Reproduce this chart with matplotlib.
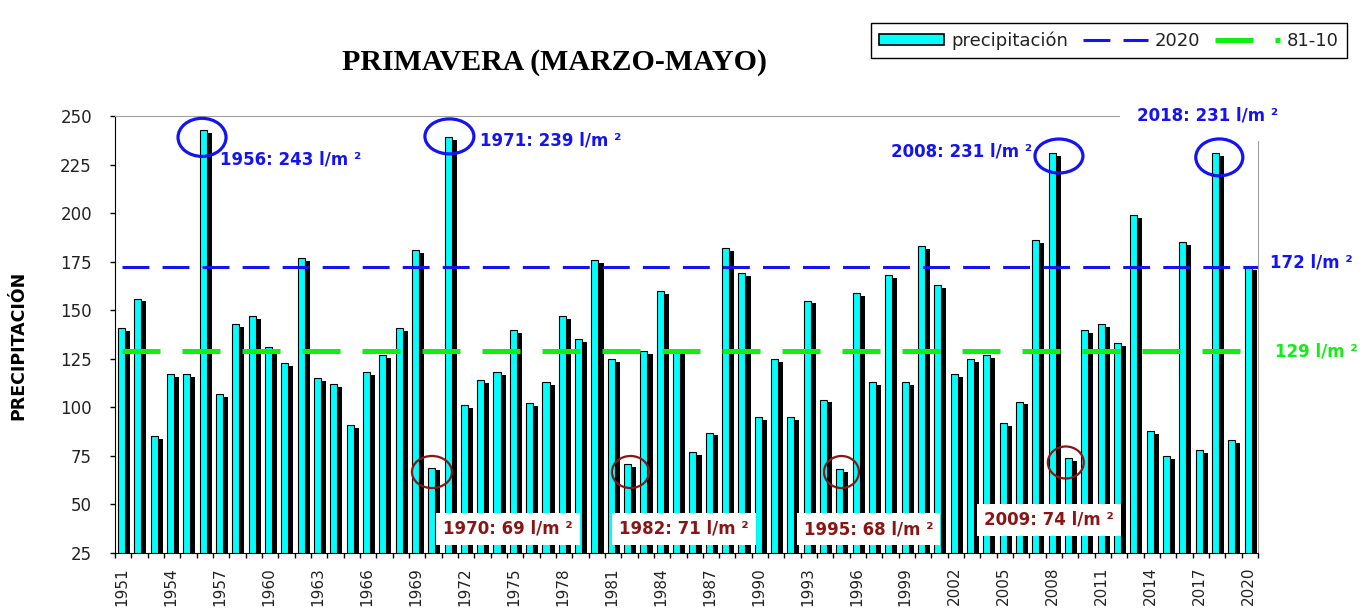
import numpy as np
import matplotlib
matplotlib.use('Agg')
import matplotlib.pyplot as plt
from matplotlib.patches import Ellipse, Patch
from matplotlib.lines import Line2D

years = list(range(1951, 2021))
precip = [141, 156, 85, 117, 117, 243, 107, 143, 147, 131,
          123, 177, 115, 112, 91, 118, 127, 141, 181, 69,
          239, 101, 114, 118, 140, 102, 113, 147, 135, 176,
          125, 71, 129, 160, 129, 77, 87, 182, 169, 95,
          125, 95, 155, 104, 68, 159, 113, 168, 113, 183,
          163, 117, 125, 127, 92, 103, 186, 231, 74, 140,
          143, 133, 199, 88, 75, 185, 78, 231, 83, 172]
ref_2020 = 172
ref_8110 = 129

# highlighted years: (year, ellipse dx, ellipse dy, ellipse w, ellipse h)
max_marks = [(1956, -0.17, -4, 2.94, 19.6), (1971, -0.02, 0.5, 3.0, 18.0),
             (2008, 0.31, -1.6, 2.94, 17.5), (2018, 0.13, -2.3, 2.88, 19.0)]
min_marks = [(1970, -0.09, -2.3, 2.45, 16.5), (1982, 0.07, -4.3, 2.27, 16.5),
             (1995, -0.01, -1.3, 2.14, 16.5), (2009, -0.27, -2.4, 2.2, 16.5)]
# label positions (year, dx, y, ha)
max_labels = [(1956, 0.93, 227.4, 'left'), (1971, 1.85, 237.4, 'left'),
              (2008, -1.35, 231.7, 'right'), (2018, -4.91, 250.5, 'left')]
min_labels = [(1970, 0.59, 37.4), (1982, -0.64, 37.4),
              (1995, -2.31, 37.2), (2009, -5.29, 42.0)]

BLUE = '#1414f0'
GREEN = '#11ee11'
BROWN = '#8b1515'
CYAN = '#00ffff'

fig = plt.figure(figsize=(13.7, 6.1), dpi=100)
ax = fig.add_axes([115/1370, 57/610, 1143/1370, 437/610])

x = np.arange(len(years))
vals = np.array(precip)
ax.bar(x + 0.205, vals - 1.5, width=0.43, color='black', zorder=2)
ax.bar(x - 0.105, vals, width=0.43, color=CYAN, edgecolor='black',
       linewidth=0.8, zorder=2.1)

ax.axhline(ref_2020, color=BLUE, lw=2.2, linestyle=(10.8, (8.8, 4.3)), zorder=3)
ax.axhline(ref_8110, color=GREEN, lw=3.6, linestyle=(10.6, (7.6, 4.4)), zorder=3)

ax.set_xlim(-0.5, len(years) - 0.5)
ax.set_ylim(25, 250)
ax.set_yticks(range(25, 251, 25))
ax.set_xticks(x[::3] - 0.1)
ax.set_xticklabels([str(y) for y in years[::3]], rotation=90)
ax.set_xticks(np.arange(-0.5, len(years), 1), minor=True)
ax.tick_params(axis='x', which='major', length=0, pad=10, labelsize=11,
               labelcolor='#222222')
ax.tick_params(axis='x', which='minor', length=3.6, width=1, color='black')
ax.tick_params(axis='y', length=3.6, width=1, pad=13, labelsize=12,
               labelcolor='#222222')
for lab in ax.get_xticklabels() + ax.get_yticklabels():
    lab.set_family('DejaVu Sans')

ax.spines['top'].set_color('#a0a0a0')
ax.spines['right'].set_color('#a0a0a0')
ax.spines['left'].set_color('black')
ax.spines['bottom'].set_color('black')

for yr, dx, dy, w, h in max_marks:
    i = years.index(yr)
    ax.add_patch(Ellipse((i + dx, precip[i] + dy), w, h, fill=False,
                         edgecolor=BLUE, lw=2.3, zorder=6, clip_on=False))
for yr, dx, dy, w, h in min_marks:
    i = years.index(yr)
    ax.add_patch(Ellipse((i + dx, precip[i] + dy), w, h, fill=False,
                         edgecolor=BROWN, lw=1.6, zorder=6))

for yr, dx, yy, ha in max_labels:
    i = years.index(yr)
    t = ax.text(i + dx, yy, f'{yr}: {precip[i]} l/m ²', color=BLUE,
                fontsize=12, fontweight='bold', family='DejaVu Sans',
                ha=ha, va='center', zorder=5, clip_on=False)
    if yr == 2018:
        t.set_bbox(dict(boxstyle='square,pad=1.0', fc='white', ec='none'))

for yr, dx, yy in min_labels:
    i = years.index(yr)
    ax.text(i + dx, yy, f'{yr}: {precip[i]} l/m ²', color=BROWN,
            fontsize=12, fontweight='bold', family='DejaVu Sans',
            ha='left', va='center', zorder=5,
            bbox=dict(boxstyle='square,pad=0.42', fc='white', ec='none'))

trans = ax.get_yaxis_transform()
ax.text(1.0105, ref_2020 + 2.5, f'{ref_2020} l/m ²', transform=trans,
        color=BLUE, fontsize=12, fontweight='bold', family='DejaVu Sans',
        ha='left', va='center', clip_on=False)
ax.text(1.015, ref_8110, f'{ref_8110} l/m ²', transform=trans,
        color=GREEN, fontsize=12, fontweight='bold', family='DejaVu Sans',
        ha='left', va='center', clip_on=False)

fig.text(554/1370, 1 - 63/610, 'PRIMAVERA (MARZO-MAYO)', ha='center',
         va='center', fontsize=21.5, fontweight='bold', family='Liberation Serif')
fig.text(18/1370, 1 - 345/610, 'PRECIPITACIÓN', rotation=90, ha='center',
         va='center', fontsize=12.5, fontweight='bold', family='DejaVu Sans')

handles = [Patch(facecolor=CYAN, edgecolor='black', linewidth=1.2),
           Line2D([], [], color=BLUE, lw=2.2, dashes=(8.8, 4.3)),
           Line2D([], [], color=GREEN, lw=3.6, dashes=(7.6, 4.4))]
leg = fig.legend(handles, ['precipitación', '2020', '81-10'], ncol=3,
                 loc='upper right', bbox_to_anchor=(1356/1370, 1 - 14/610),
                 fancybox=False, edgecolor='black', framealpha=1,
                 handlelength=3.6, handleheight=0.6, handletextpad=0.4,
                 columnspacing=0.8, borderpad=0.45,
                 prop={'family': 'DejaVu Sans', 'size': 13})
leg.get_frame().set_linewidth(1.0)
for t in leg.get_texts():
    t.set_color('#222222')

fig.savefig('out.png', dpi=100)
